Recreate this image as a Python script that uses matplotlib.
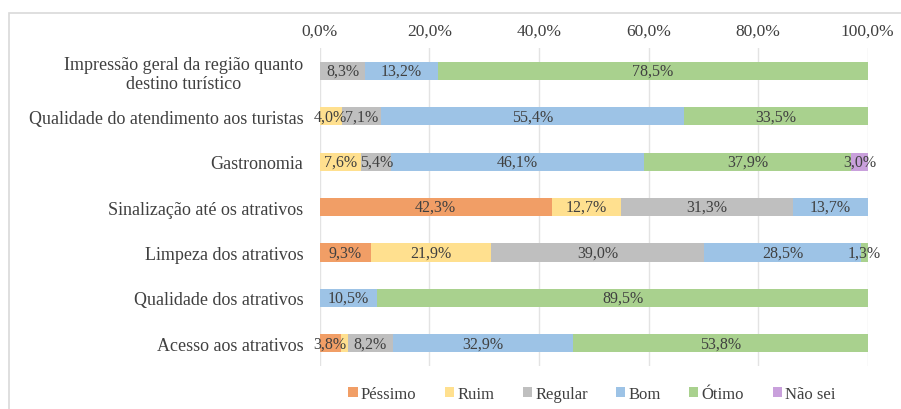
import matplotlib
matplotlib.use("Agg")
import matplotlib.pyplot as plt
from matplotlib.patches import Rectangle
from matplotlib.font_manager import FontProperties
import numpy as np

categories = [
    "Impressão geral da região quanto\ndestino turístico",
    "Qualidade do atendimento aos turistas",
    "Gastronomia",
    "Sinalização até os atrativos",
    "Limpeza dos atrativos",
    "Qualidade dos atrativos",
    "Acesso aos atrativos",
]
series = ["Péssimo", "Ruim", "Regular", "Bom", "Ótimo", "Não sei"]
pessimo = [0.0, 0.0, 0.0, 42.3, 9.3, 0.0, 3.8]
ruim    = [0.0, 4.0, 7.6, 12.7, 21.9, 0.0, 1.3]
regular = [8.3, 7.1, 5.4, 31.3, 39.0, 0.0, 8.2]
bom     = [13.2, 55.4, 46.1, 13.7, 28.5, 10.5, 32.9]
otimo   = [78.5, 33.5, 37.9, 0.0, 1.3, 89.5, 53.8]
nao_sei = [0.0, 0.0, 3.0, 0.0, 0.0, 0.0, 0.0]
hidden_labels = {(6, 1)}  # Acesso aos atrativos / Ruim label not shown
ticks = [0, 20, 40, 60, 80, 100]

colors = ["#F19E66", "#FFE08F", "#BFBFBF", "#9DC3E6", "#A9D18E", "#C9A0DC"]
values = [pessimo, ruim, regular, bom, otimo, nao_sei]

plt.rcParams['font.family'] = ['Liberation Serif', 'DejaVu Serif']
txt = "#404040"

fig = plt.figure(figsize=(9.01, 4.10), dpi=100)
ax = fig.add_axes([0.355, 0.105, 0.608, 0.775])

y = np.arange(len(categories))
left = np.zeros(len(categories))
for si, (name, vals, c) in enumerate(zip(series, values, colors)):
    vals = np.array(vals)
    ax.barh(y, vals, left=left, height=0.4, color=c, label=name, zorder=2)
    for ci, v in enumerate(vals):
        if v > 0 and (ci, si) not in hidden_labels:
            ax.text(left[ci] + v / 2, y[ci], f"{v:.1f}%".replace(".", ","),
                    ha="center", va="center", fontsize=11.5, color=txt, zorder=3)
    left += vals

ax.set_xlim(0, 100)
ax.set_ylim(len(categories) - 0.5, -0.5)
ax.set_yticks(y)
ax.set_yticklabels(categories, fontsize=13, color=txt, multialignment="center",
                   linespacing=1.15)
ax.set_xticks(ticks)
ax.set_xticklabels([f"{t:.1f}%".replace(".", ",") for t in ticks], fontsize=12.5, color=txt)
ax.xaxis.tick_top()
ax.tick_params(axis="x", length=0, pad=7)
ax.tick_params(axis="y", length=0, pad=12)
ax.grid(axis="x", color="#E3E3E3", linewidth=1, zorder=0)
for s in ax.spines.values():
    s.set_visible(False)

fig.legend(loc="center", bbox_to_anchor=(0.657, 0.037), ncol=6, frameon=False,
           prop=FontProperties(family='Liberation Serif', size=12),
           handlelength=0.55, handleheight=0.55, handletextpad=0.2,
           columnspacing=1.7, labelcolor=txt)

fig.patches.append(Rectangle((0.010, -0.1), 1.1, 1.066, transform=fig.transFigure,
                             fill=False, edgecolor="#D9D9D9", linewidth=1.2))

fig.savefig("out.png", dpi=100)
